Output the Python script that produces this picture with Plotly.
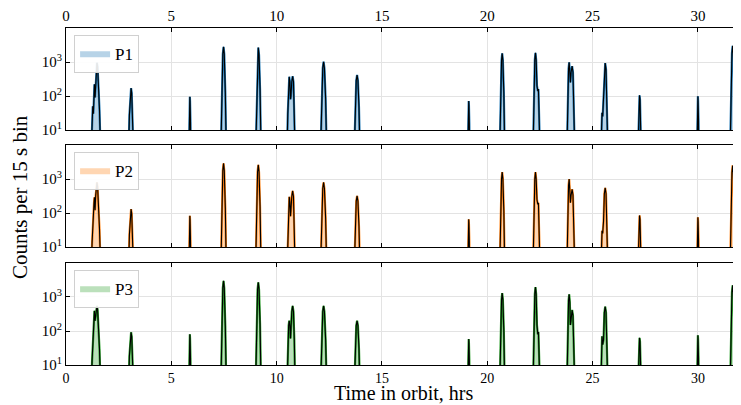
import plotly.graph_objects as go
from plotly.subplots import make_subplots

# Time in orbit (hrs), shared by all three panels
TIME = [0.0,
        1.18, 1.24, 1.27, 1.30, 1.33, 1.35, 1.38, 1.41, 1.44, 1.47, 1.50, 1.54, 1.59, 1.66,
        2.96, 3.01, 3.06, 3.09, 3.12, 3.17, 3.22,
        5.83, 5.85, 5.87, 5.88, 5.89, 5.91, 5.93,
        7.34, 7.40, 7.445, 7.48, 7.515, 7.564, 7.62,
        8.99, 9.046, 9.095, 9.13, 9.165, 9.214, 9.27,
        10.48, 10.53, 10.57, 10.60, 10.63, 10.66, 10.68, 10.72, 10.76, 10.80, 10.84, 10.89,
        12.07, 12.134, 12.19, 12.23, 12.27, 12.326, 12.39,
        13.67, 13.73, 13.78, 13.82, 13.86, 13.91, 13.97,
        19.07, 19.09, 19.11, 19.12, 19.13, 19.15, 19.17,
        20.58, 20.632, 20.678, 20.71, 20.742, 20.788, 20.84,
        22.16, 22.212, 22.258, 22.29, 22.322, 22.36, 22.40, 22.43, 22.46, 22.52,
        23.77, 23.82, 23.86, 23.89, 23.92, 23.95, 23.98, 24.03, 24.07, 24.11, 24.17,
        25.38, 25.42, 25.45, 25.48, 25.52, 25.56, 25.60, 25.64, 25.68, 25.74,
        27.14, 27.176, 27.207, 27.23, 27.253, 27.284, 27.32,
        29.95, 29.97, 29.99, 30.0, 30.01, 30.03, 30.05,
        31.52, 31.572, 31.618, 31.65, 31.682, 31.728, 31.78,
        32.0]

# Counts per 15 s bin (values of 1 lie below the visible range)
P1 = [1,
      1, 14, 50, 30, 120, 220, 90, 300, 750, 950, 750, 250, 40, 1,
      1, 27, 123, 170, 123, 27, 1,
      1, 18, 71, 95, 71, 18, 1,
      1, 161, 1720, 2800, 1720, 130, 1,
      1, 60, 1630, 2650, 1630, 155, 1,
      1, 30, 256, 370, 256, 80, 100, 262, 380, 262, 45, 1,
      1, 84, 660, 1020, 660, 84, 1,
      1, 47, 285, 415, 285, 47, 1,
      1, 15, 54, 71, 54, 15, 1,
      1, 121, 1130, 1800, 1130, 121, 1,
      1, 123, 1160, 1850, 1160, 200, 140, 160, 60, 1,
      1, 83, 636, 980, 636, 250, 500, 760, 500, 70, 1,
      1, 12, 32, 25, 79, 605, 930, 605, 79, 1,
      1, 20, 79, 105, 79, 20, 1,
      1, 19, 73, 98, 73, 19, 1,
      1, 168, 1830, 3000, 1830, 168, 1,
      1]

P2 = [1,
      1, 14, 50, 40, 200, 290, 120, 330, 650, 800, 600, 220, 35, 1,
      1, 23, 96, 130, 96, 23, 1,
      1, 17, 63, 83, 63, 17, 1,
      1, 164, 1770, 2900, 1770, 140, 1,
      1, 70, 1600, 2600, 1600, 153, 1,
      1, 28, 210, 300, 210, 80, 120, 307, 450, 307, 50, 1,
      1, 72, 525, 800, 525, 72, 1,
      1, 40, 224, 320, 224, 40, 1,
      1, 14, 50, 65, 50, 14, 1,
      1, 112, 1010, 1600, 1010, 112, 1,
      1, 112, 1010, 1600, 1010, 250, 180, 200, 70, 1,
      1, 83, 648, 1000, 600, 200, 330, 500, 338, 53, 1,
      1, 12, 30, 25, 56, 370, 550, 370, 56, 1,
      1, 17, 65, 85, 65, 17, 1,
      1, 16, 57, 75, 57, 16, 1,
      1, 149, 1540, 2500, 1540, 149, 1,
      1]

P3 = [1,
      1, 14, 50, 60, 300, 390, 200, 350, 500, 550, 420, 180, 30, 1,
      1, 18, 69, 92, 69, 18, 1,
      1, 16, 61, 80, 61, 16, 1,
      1, 168, 1830, 3000, 1830, 140, 1,
      1, 80, 1660, 2700, 1660, 157, 1,
      1, 25, 144, 200, 144, 60, 130, 370, 550, 370, 56, 1,
      1, 56, 370, 550, 370, 56, 1,
      1, 30, 144, 200, 144, 30, 1,
      1, 13, 45, 58, 45, 13, 1,
      1, 98, 830, 1300, 830, 98, 1,
      1, 127, 1220, 1950, 1220, 150, 80, 93, 35, 1,
      1, 93, 770, 1200, 700, 150, 280, 415, 285, 47, 1,
      1, 20, 70, 40, 54, 350, 520, 350, 54, 1,
      1, 14, 49, 63, 49, 14, 1,
      1, 16, 57, 75, 57, 16, 1,
      1, 137, 1365, 2200, 1365, 137, 1,
      1]

SERIES = [("P1", P1), ("P2", P2), ("P3", P3)]
LINE_COLORS = ["#1f77b4", "#ff7f0e", "#2ca02c"]
FILL_COLORS = ["rgba(31,119,180,0.32)", "rgba(255,127,14,0.32)", "rgba(44,160,44,0.32)"]

X_TICKS = [0, 5, 10, 15, 20, 25, 30]
Y_TICKS = [10, 100, 1000]
Y_TICKTEXT = ["10<sup>1</sup>", "10<sup>2</sup>", "10<sup>3</sup>"]

FONT = "Liberation Serif"

fig = make_subplots(rows=3, cols=1, shared_xaxes=False, vertical_spacing=0.0)

domains = [[0.6973, 1.0], [0.3501, 0.6528], [0.0, 0.3027]]
legend_names = ["legend", "legend2", "legend3"]

for i, (name, vals) in enumerate(SERIES):
    row = i + 1
    fig.add_trace(go.Scatter(
        x=TIME, y=vals, mode="lines", name=name, fill="toself",
        fillcolor=FILL_COLORS[i], line=dict(color=LINE_COLORS[i], width=0),
        legend=legend_names[i], showlegend=True, hoverinfo="skip"),
        row=row, col=1)
    fig.add_trace(go.Scatter(
        x=TIME, y=vals, mode="lines", line=dict(color=LINE_COLORS[i], width=2.2),
        showlegend=False, hoverinfo="skip"),
        row=row, col=1)
    fig.add_trace(go.Scatter(
        x=TIME, y=vals, mode="lines", line=dict(color="black", width=1.1),
        showlegend=False, hoverinfo="skip"),
        row=row, col=1)

axis_common = dict(showline=True, linecolor="black", linewidth=1.2, mirror="allticks",
                   ticks="inside", ticklen=4, tickcolor="black", tickwidth=1,
                   showgrid=True, gridcolor="#e3e3e3", gridwidth=1, zeroline=False,
                   tickfont=dict(family=FONT, size=15, color="black"))

for i in range(3):
    row = i + 1
    xa = dict(axis_common)
    xa.update(range=[0, 32], tickvals=X_TICKS, showticklabels=(i != 1))
    if i == 0:
        xa.update(side="top")
    if i == 2:
        xa.update(tickfont=dict(family=FONT, size=14, color="black"))
    fig.update_xaxes(row=row, col=1, **xa)
    ya = dict(axis_common)
    ya.update(type="log", range=[1, 4], tickvals=Y_TICKS, ticktext=Y_TICKTEXT,
              domain=domains[i])
    fig.update_yaxes(row=row, col=1, **ya)

# per-panel legends
legend_style = dict(x=0.012, xanchor="left", yanchor="top",
                    bgcolor="rgba(255,255,255,0.9)", bordercolor="#d0d0d0", borderwidth=1,
                    font=dict(family=FONT, size=17, color="black"),
                    itemwidth=30, tracegroupgap=0)
fig.update_layout(
    legend=dict(legend_style, y=0.98),
    legend2=dict(legend_style, y=0.6528 - 0.02),
    legend3=dict(legend_style, y=0.3027 - 0.02),
)

fig.add_annotation(text="Counts per 15 s bin", xref="paper", yref="paper",
                   x=-0.069, y=0.5, xanchor="center", yanchor="middle",
                   textangle=-90, showarrow=False,
                   font=dict(family=FONT, size=21, color="black"))
fig.add_annotation(text="Time in orbit, hrs", xref="paper", yref="paper",
                   x=0.5, y=-0.1187, xanchor="center", yanchor="bottom", showarrow=False,
                   borderpad=0,
                   font=dict(family=FONT, size=20, color="black"))

# page body adds an 8 px offset, so the figure is sized to fit the window
fig.update_layout(width=733, height=397, margin=dict(l=58, r=1, t=20, b=40),
                  plot_bgcolor="white", paper_bgcolor="white",
                  font=dict(family=FONT, color="black"))

fig.write_html("out.html")
